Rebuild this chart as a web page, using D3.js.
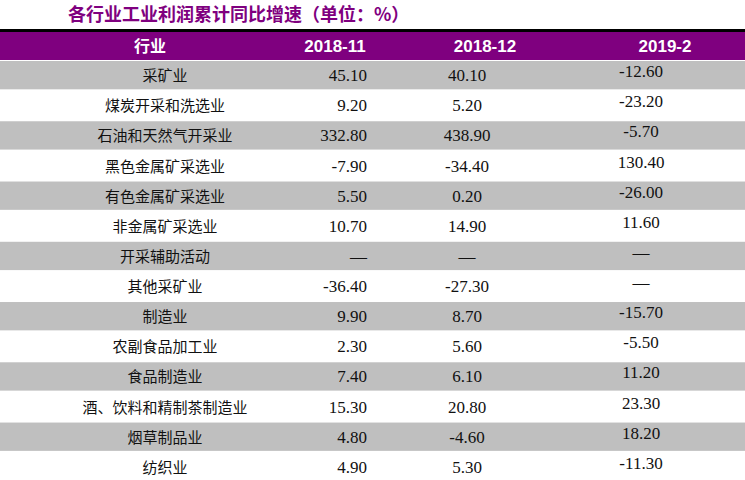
<!DOCTYPE html><html><head><meta charset="utf-8"><script src="https://cdn.jsdelivr.net/npm/d3@7"></script>
<style>body{margin:0;background:#fff}</style></head><body><svg id="c" width="745" height="480"></svg>
<script>
const title="各行业工业利润累计同比增速（单位：%）";
const headers=["行业","2018-11","2018-12","2019-2"];
const industries=["采矿业","煤炭开采和洗选业","石油和天然气开采业","黑色金属矿采选业","有色金属矿采选业","非金属矿采选业","开采辅助活动","其他采矿业","制造业","农副食品加工业","食品制造业","酒、饮料和精制茶制造业","烟草制品业","纺织业"];
const v2018_11=["45.10","9.20","332.80","-7.90","5.50","10.70","—","-36.40","9.90","2.30","7.40","15.30","4.80","4.90"];
const v2018_12=["40.10","5.20","438.90","-34.40","0.20","14.90","—","-27.30","8.70","5.60","6.10","20.80","-4.60","5.30"];
const v2019_2=["-12.60","-23.20","-5.70","130.40","-26.00","11.60","—","—","-15.70","-5.50","11.20","23.30","18.20","-11.30"];
const svg=d3.select("#c");
const y=d3.scaleBand().domain(d3.range(industries.length)).range([61,481]).paddingInner(0.06);
svg.append("text").attr("x",68).attr("y",21).attr("fill","#7f007f").attr("font-family","Noto Sans CJK SC").attr("font-weight","bold").attr("font-size",18).text(title);
svg.append("rect").attr("x",0).attr("y",29).attr("width",745).attr("height",3).attr("fill","#000");
svg.append("rect").attr("x",0).attr("y",32).attr("width",745).attr("height",28).attr("fill","#7f007f");
const hx=[150,335,485,665];
headers.forEach((h,i)=>svg.append("text").attr("x",hx[i]).attr("y",52).attr("text-anchor","middle").attr("fill","#fff").attr("font-weight","bold").attr("font-size",i?17:16).attr("font-family",i?"Liberation Sans":"Noto Sans CJK SC").text(h));
const g=svg.selectAll("g.r").data(industries).join("g");
g.append("rect").attr("x",0).attr("width",745).attr("y",(d,i)=>y(i)).attr("height",y.bandwidth()).attr("fill",(d,i)=>i%2?"#fff":"#bfbfbf");
const cy=i=>y(i)+y.bandwidth()/2+6;
g.append("text").attr("x",165).attr("y",(d,i)=>cy(i)).attr("text-anchor","middle").attr("font-family","Noto Sans CJK SC").attr("font-size",15).attr("fill","#111").text(d=>d);
const num=(arr,x,anchor,dy)=>g.append("text").attr("x",x).attr("y",(d,i)=>cy(i)+dy).attr("text-anchor",anchor).attr("font-family","Liberation Serif").attr("font-size",17).attr("fill","#111").text((d,i)=>arr[i]);
num(v2018_11,367,"end",0);
num(v2018_12,467,"middle",0);
num(v2019_2,641,"middle",-4);
</script></body></html>
